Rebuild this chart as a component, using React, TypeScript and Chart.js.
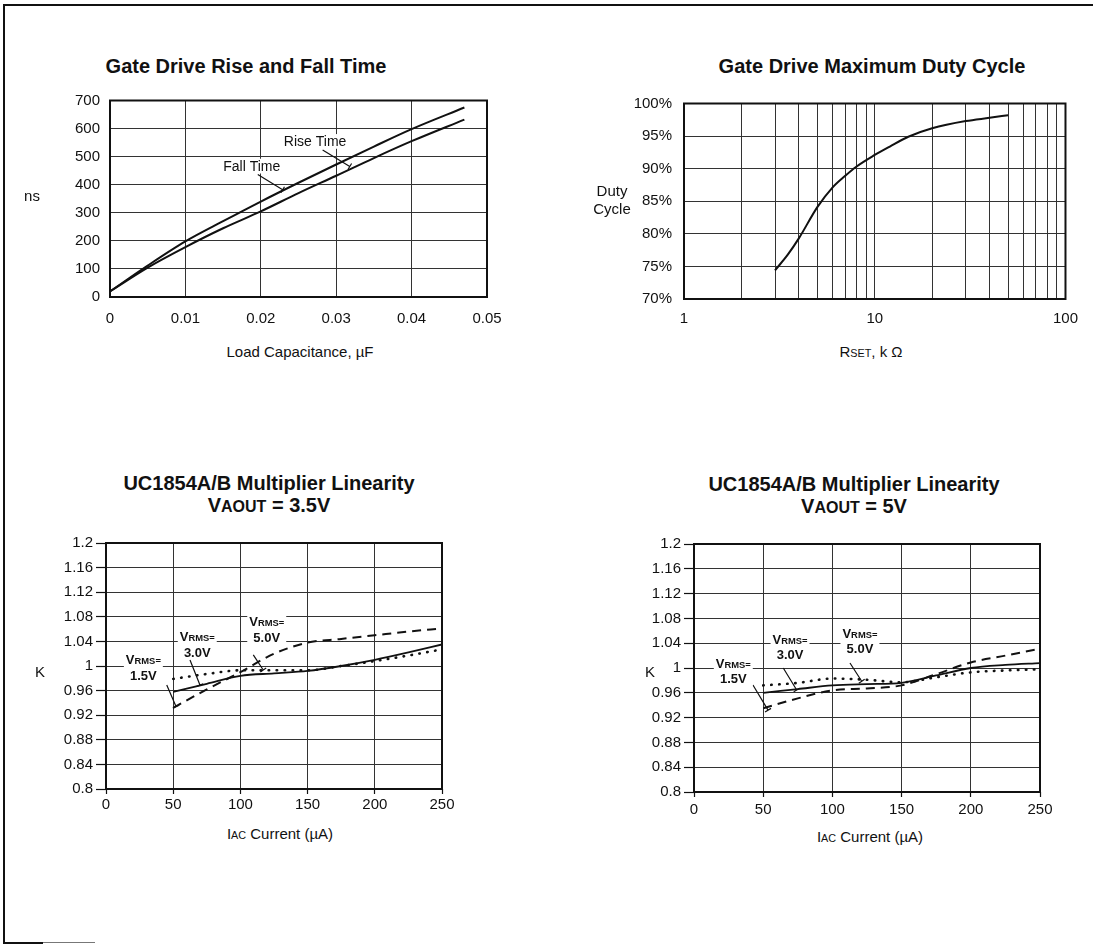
import React, { useEffect, useRef } from "react";
import { Chart, registerables } from "chart.js";

Chart.register(...registerables);

const FONT = "'Liberation Sans', Arial, Helvetica, sans-serif";
const INK = "#111111";
const GRID = "#333333";

// ---------- Gate Drive Rise and Fall Time ----------
const loadCapacitanceUF = [0, 0.005, 0.01, 0.015, 0.02, 0.025, 0.03, 0.035, 0.04, 0.047];
const fallTimeNs = [20, 112, 198, 270, 340, 407, 472, 536, 598, 675];
const riseTimeNs = [20, 105, 178, 245, 305, 370, 432, 495, 555, 632];
const capTicks = [0, 0.01, 0.02, 0.03, 0.04, 0.05];
const nsTicks = [0, 100, 200, 300, 400, 500, 600, 700];

// ---------- Gate Drive Maximum Duty Cycle ----------
const rsetKOhm = [3, 3.5, 4, 5, 6, 7, 8, 10, 12, 15, 20, 30, 40, 50];
const dutyCyclePct = [74.4, 76.8, 79.3, 84.1, 87.1, 88.9, 90.3, 92.1, 93.4, 94.9, 96.2, 97.3, 97.8, 98.2];
const rsetTicks = [1, 2, 3, 4, 5, 6, 7, 8, 9, 10, 20, 30, 40, 50, 60, 70, 80, 90, 100];
const rsetLabelTicks = [1, 10, 100];
const dutyTicks = [70, 75, 80, 85, 90, 95, 100];

// ---------- UC1854A/B Multiplier Linearity ----------
const iacMicroA = [50, 75, 100, 125, 150, 175, 200, 225, 250];
const k35Vrms15 = [0.932, 0.962, 0.99, 1.02, 1.038, 1.044, 1.05, 1.056, 1.061];
const k35Vrms30 = [0.958, 0.971, 0.984, 0.988, 0.992, 1.0, 1.01, 1.022, 1.035];
const k35Vrms50 = [0.979, 0.987, 0.993, 0.993, 0.993, 1.0, 1.008, 1.017, 1.027];
const k5Vrms15 = [0.935, 0.951, 0.964, 0.967, 0.972, 0.99, 1.009, 1.02, 1.031];
const k5Vrms30 = [0.96, 0.966, 0.972, 0.974, 0.976, 0.988, 1.0, 1.005, 1.008];
const k5Vrms50 = [0.972, 0.976, 0.983, 0.981, 0.977, 0.985, 0.993, 0.996, 0.998];
const iacTicks = [0, 50, 100, 150, 200, 250];
const kTicks = [0.8, 0.84, 0.88, 0.92, 0.96, 1, 1.04, 1.08, 1.12, 1.16, 1.2];

// ---------- annotations (data coordinates) ----------
const SMALL = 0.72;
const riseFallNotes = [
  { x: 0.0272, y: 556, size: 14, bold: false, lines: [[["Rise Time", 1]]], from: [0.0282, 524], to: [0.0318, 465] },
  { x: 0.0188, y: 468, size: 14, bold: false, lines: [[["Fall Time", 1]]], from: [0.0196, 436], to: [0.0229, 382] },
];
const vrms = (v: string) => [[["V", 1], ["RMS=", SMALL]], [[v, 1]]];
const lin35Notes = [
  { x: 27.8, y: 0.998, size: 13, bold: true, lines: vrms("1.5V"), from: [45.2, 0.969], to: [52.1, 0.934] },
  { x: 67.9, y: 1.0355, size: 13, bold: true, lines: vrms("3.0V"), from: [62.5, 1.0098], to: [69.9, 0.969] },
  { x: 119.6, y: 1.0598, size: 13, bold: true, lines: vrms("5.0V"), from: [109.6, 1.018], to: [117, 0.9935] },
];
const lin5Notes = [
  { x: 28.4, y: 0.9955, size: 13, bold: true, lines: vrms("1.5V"), from: [42.6, 0.9726], to: [53.5, 0.932] },
  { x: 69.4, y: 1.0344, size: 13, bold: true, lines: vrms("3.0V"), from: [64.5, 1.0], to: [74.2, 0.9645] },
  { x: 119.9, y: 1.0439, size: 13, bold: true, lines: vrms("5.0V"), from: [112.7, 1.008], to: [121.2, 0.9786] },
];

const fmtPlain = (v: number) => String(Number(v.toFixed(3)));

const framePlugin = {
  id: "frame",
  afterDatasetsDraw(chart: any) {
    const { ctx, chartArea: a } = chart;
    ctx.save();
    ctx.strokeStyle = INK;
    ctx.lineWidth = 2;
    ctx.strokeRect(a.left, a.top, a.right - a.left, a.bottom - a.top);
    ctx.restore();
  },
};

function makeNotes(notes: any[]) {
  return {
    id: "notes",
    afterDraw(chart: any) {
      const { ctx } = chart;
      const xs = chart.scales.x;
      const ys = chart.scales.y;
      const font = (n: any, s: number) => `${n.bold ? "bold " : ""}${(n.size * s).toFixed(1)}px ${FONT}`;
      ctx.save();
      for (const n of notes) {
        const cx = xs.getPixelForValue(n.x);
        const cy = ys.getPixelForValue(n.y);
        const lh = n.size * 1.2;
        if (n.from && n.to) {
          const x1 = xs.getPixelForValue(n.from[0]);
          const y1 = ys.getPixelForValue(n.from[1]);
          const x2 = xs.getPixelForValue(n.to[0]);
          const y2 = ys.getPixelForValue(n.to[1]);
          ctx.strokeStyle = INK;
          ctx.lineWidth = 1.2;
          ctx.beginPath();
          ctx.moveTo(x1, y1);
          ctx.lineTo(x2, y2);
          const dx = x2 - x1, dy = y2 - y1;
          const len = Math.hypot(dx, dy) || 1;
          const px = (-dy / len) * 3.5, py = (dx / len) * 3.5;
          ctx.moveTo(x2 - px, y2 - py);
          ctx.lineTo(x2 + px, y2 + py);
          ctx.stroke();
        }
        const widths = n.lines.map((line: any[]) =>
          line.reduce((w: number, [t, s]: any) => {
            ctx.font = font(n, s);
            return w + ctx.measureText(t).width;
          }, 0)
        );
        const bw = Math.max(...widths);
        const bh = lh * n.lines.length;
        const firstBase = cy - bh / 2 + lh / 2 + n.size * 0.36;
        const lastBase = firstBase + lh * (n.lines.length - 1);
        ctx.fillStyle = "#ffffff";
        const boxTop = firstBase - n.size * 0.85;
        const boxBottom = lastBase + n.size * 0.2;
        ctx.fillRect(cx - bw / 2 - 2, boxTop, bw + 4, boxBottom - boxTop);
        ctx.fillStyle = INK;
        ctx.textBaseline = "alphabetic";
        ctx.textAlign = "left";
        n.lines.forEach((line: any[], i: number) => {
          let x0 = cx - widths[i] / 2;
          const base = firstBase + lh * i;
          for (const [t, s] of line) {
            ctx.font = font(n, s);
            ctx.fillText(t, x0, base);
            x0 += ctx.measureText(t).width;
          }
        });
      }
      ctx.restore();
    },
  };
}

function axis(type: string, o: any) {
  return {
    type,
    min: o.min,
    max: o.max,
    afterBuildTicks: (s: any) => {
      s.ticks = o.ticks.map((v: number) => ({ value: v }));
    },
    afterFit: (s: any) => {
      if (o.vertical) s.width = o.size;
      else s.height = o.size;
    },
    grid: {
      color: GRID,
      lineWidth: 1,
      drawTicks: o.tickLength > 0,
      tickLength: o.tickLength,
      tickColor: INK,
      tickWidth: 1.2,
    },
    border: { display: false },
    ticks: {
      autoSkip: false,
      maxRotation: 0,
      minRotation: 0,
      padding: o.pad,
      color: INK,
      font: { family: FONT, size: 15, lineHeight: 1 },
      callback: (v: number) => o.fmt(v),
    },
  };
}

function series(xs: number[], ys: number[], style: any) {
  return {
    data: xs.map((x, i) => ({ x, y: ys[i] })),
    borderColor: INK,
    pointRadius: 0,
    fill: false,
    cubicInterpolationMode: "monotone",
    ...style,
  };
}

const SOLID = { borderWidth: 1.8 };
const DASHED = { borderWidth: 2, borderDash: [9, 6] };
const DOTTED = { borderWidth: 2.6, borderDash: [0.5, 7.5], borderCapStyle: "round" };

function makeConfig(datasets: any[], x: any, y: any, pad: any, notes: any[]) {
  return {
    type: "line",
    data: { datasets },
    options: {
      responsive: false,
      animation: false,
      events: [],
      layout: { padding: { left: 0, top: pad.top, right: pad.right, bottom: pad.bottom } },
      plugins: { legend: { display: false }, tooltip: { enabled: false }, title: { display: false } },
      scales: { x, y },
    },
    plugins: [framePlugin, makeNotes(notes)],
  };
}

function ChartBox({ plot, yw, xh, pad, build }: any) {
  const ref = useRef<HTMLCanvasElement>(null);
  const left = plot.l - yw;
  const top = plot.t - pad.top;
  const width = plot.r - plot.l + yw + pad.right;
  const height = plot.b - plot.t + pad.top + xh + pad.bottom;
  useEffect(() => {
    const chart = new Chart(ref.current as HTMLCanvasElement, build(yw, xh, pad) as any);
    return () => chart.destroy();
  }, []);
  return (
    <canvas
      ref={ref}
      width={width}
      height={height}
      style={{ position: "absolute", left, top, width, height }}
    />
  );
}

function Txt({ x, y, size = 15, bold = false, children }: any) {
  return (
    <div
      style={{
        position: "absolute",
        left: x,
        top: y,
        transform: "translate(-50%, -50%)",
        whiteSpace: "nowrap",
        font: `${bold ? "bold " : ""}${size}px ${FONT}`,
        lineHeight: 1,
        color: INK,
      }}
    >
      {children}
    </div>
  );
}

const Sc = ({ children, k = 0.72 }: any) => <span style={{ fontSize: `${k}em` }}>{children}</span>;

export default function App() {
  useEffect(() => {
    document.body.style.margin = "0";
    document.body.style.overflow = "hidden";
  }, []);

  const buildRiseFall = (yw: number, xh: number, pad: any) =>
    makeConfig(
      [
        series(loadCapacitanceUF, fallTimeNs, { label: "Fall Time", ...SOLID, borderWidth: 2 }),
        series(loadCapacitanceUF, riseTimeNs, { label: "Rise Time", ...SOLID, borderWidth: 2 }),
      ],
      axis("linear", { min: 0, max: 0.05, ticks: capTicks, fmt: (v: number) => (v === 0 ? "0" : v.toFixed(2)), size: xh, tickLength: 0, pad: 14 }),
      axis("linear", { min: 0, max: 700, ticks: nsTicks, fmt: fmtPlain, size: yw, vertical: true, tickLength: 0, pad: 10 }),
      pad,
      riseFallNotes
    );

  const buildDuty = (yw: number, xh: number, pad: any) =>
    makeConfig(
      [series(rsetKOhm, dutyCyclePct, { label: "Duty Cycle", ...SOLID, borderWidth: 2 })],
      axis("logarithmic", { min: 1, max: 100, ticks: rsetTicks, fmt: (v: number) => (rsetLabelTicks.includes(v) ? String(v) : ""), size: xh, tickLength: 0, pad: 12 }),
      axis("linear", { min: 70, max: 100, ticks: dutyTicks, fmt: (v: number) => `${v}%`, size: yw, vertical: true, tickLength: 0, pad: 12 }),
      pad,
      []
    );

  const buildLin = (a: number[], b: number[], c: number[], notes: any[], xpad: number) => (yw: number, xh: number, pad: any) =>
    makeConfig(
      [
        series(iacMicroA, a, { label: "VRMS=1.5V", ...DASHED }),
        series(iacMicroA, b, { label: "VRMS=3.0V", ...SOLID }),
        series(iacMicroA, c, { label: "VRMS=5.0V", ...DOTTED }),
      ],
      axis("linear", { min: 0, max: 250, ticks: iacTicks, fmt: fmtPlain, size: xh, tickLength: 5, pad: xpad }),
      axis("linear", { min: 0.8, max: 1.2, ticks: kTicks, fmt: fmtPlain, size: yw, vertical: true, tickLength: 10, pad: 3 }),
      pad,
      notes
    );

  return (
    <div style={{ position: "absolute", left: 0, top: 0, width: 1093, height: 945, overflow: "hidden", background: "#fff" }}>
      {/* page frame */}
      <div style={{ position: "absolute", left: 3, top: 4, width: 1090, height: 2, background: INK }} />
      <div style={{ position: "absolute", left: 3, top: 4, width: 2, height: 940, background: INK }} />
      <div style={{ position: "absolute", left: 3, top: 942, width: 40, height: 2, background: INK }} />
      <div style={{ position: "absolute", left: 43, top: 942, width: 52, height: 1, background: "#777" }} />

      <ChartBox plot={{ l: 110, t: 95, r: 487, b: 297 }} yw={70} xh={34} pad={{ top: 12, right: 30, bottom: 4 }} build={buildRiseFall} />
      <ChartBox plot={{ l: 684, t: 96, r: 1068, b: 299 }} yw={70} xh={34} pad={{ top: 12, right: 22, bottom: 4 }} build={buildDuty} />
      <ChartBox plot={{ l: 106, t: 543, r: 442, b: 789 }} yw={70} xh={30} pad={{ top: 12, right: 30, bottom: 4 }} build={buildLin(k35Vrms15, k35Vrms30, k35Vrms50, lin35Notes, 3)} />
      <ChartBox plot={{ l: 694, t: 544, r: 1040, b: 792 }} yw={70} xh={30} pad={{ top: 12, right: 30, bottom: 4 }} build={buildLin(k5Vrms15, k5Vrms30, k5Vrms50, lin5Notes, 5)} />

      {/* titles */}
      <Txt x={246} y={66} size={20} bold>Gate Drive Rise and Fall Time</Txt>
      <Txt x={872} y={66} size={20} bold>Gate Drive Maximum Duty Cycle</Txt>
      <Txt x={269} y={483} size={20} bold>UC1854A/B Multiplier Linearity</Txt>
      <Txt x={269} y={505} size={20} bold>V<Sc k={0.8}>AOUT</Sc> = 3.5V</Txt>
      <Txt x={854} y={484} size={20} bold>UC1854A/B Multiplier Linearity</Txt>
      <Txt x={854} y={506} size={20} bold>V<Sc k={0.8}>AOUT</Sc> = 5V</Txt>

      {/* axis titles */}
      <Txt x={32} y={195}>ns</Txt>
      <Txt x={300} y={351}>Load Capacitance, µF</Txt>
      <Txt x={612} y={190}>Duty</Txt>
      <Txt x={612} y={208}>Cycle</Txt>
      <Txt x={871} y={351}>R<Sc>SET</Sc>, k Ω</Txt>
      <Txt x={40} y={671}>K</Txt>
      <Txt x={280} y={833}>I<Sc>AC</Sc> Current (µA)</Txt>
      <Txt x={650} y={671}>K</Txt>
      <Txt x={870} y={836}>I<Sc>AC</Sc> Current (µA)</Txt>
    </div>
  );
}
